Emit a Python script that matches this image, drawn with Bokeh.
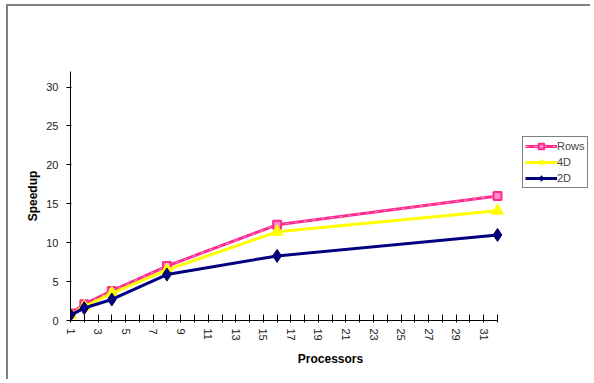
from bokeh.plotting import figure
from bokeh.models import FixedTicker, Legend, LegendItem, ColumnDataSource
from bokeh.embed import file_html
from bokeh.resources import INLINE

processors = [1, 2, 4, 8, 16, 32]
rows = [0.9, 2.1, 3.8, 7.0, 12.3, 16.0]
d4 = [0.7, 1.8, 3.5, 6.5, 11.4, 14.1]
d2 = [0.7, 1.6, 2.7, 5.9, 8.3, 11.0]

x_major = list(range(1, 33, 2))
x_minor = list(range(2, 33, 2))
y_ticks = [0, 5, 10, 15, 20, 25, 30]

FONT = "Liberation Sans"

# frame extends to the right so the legend (drawn inside the frame) is not clipped;
# the x axis itself is bounded to 1..32
AXIS_PX = 427.0
FRAME_PX = 520.0
x_end = 1 + 31 * FRAME_PX / AXIS_PX

p = figure(width=584, height=375, output_backend="svg", toolbar_location=None,
           x_range=(1, x_end), y_range=(0, 32),
           min_border_left=62, min_border_right=2, min_border_top=65, min_border_bottom=61)
p.styles = {"border-top": "2px solid #808080", "border-left": "2px solid #808080",
            "margin-top": "4px", "margin-left": "6px"}
p.xgrid.visible = False
p.ygrid.visible = False
p.outline_line_color = None
p.background_fill_color = "white"
p.border_fill_color = "white"

# axes
p.xaxis.bounds = (1, 32)
p.xaxis.ticker = FixedTicker(ticks=x_major, minor_ticks=x_minor)
p.xaxis.major_label_orientation = "vertical"
p.xaxis.major_tick_in = 6
p.xaxis.major_tick_out = 2
p.xaxis.minor_tick_in = 6
p.xaxis.minor_tick_out = 2
p.xaxis.minor_tick_line_color = "black"
p.xaxis.major_label_standoff = 6
p.xaxis.axis_label = "Processors"
p.xaxis.axis_label_standoff = 8

p.yaxis.ticker = FixedTicker(ticks=y_ticks)
p.yaxis.minor_tick_line_color = None
p.yaxis.major_tick_in = 1
p.yaxis.major_tick_out = 4
p.yaxis.major_label_standoff = 8
p.yaxis.axis_label = "Speedup"
p.yaxis.axis_label_standoff = 3

for ax in (p.xaxis, p.yaxis):
    ax.axis_line_color = "black"
    ax.major_tick_line_color = "black"
    ax.major_label_text_font = FONT
    ax.major_label_text_font_size = "11px"
    ax.major_label_text_color = "#222222"
    ax.axis_label_text_font = FONT
    ax.axis_label_text_font_size = "12px"
    ax.axis_label_text_font_style = "bold"
    ax.axis_label_text_color = "black"

src = ColumnDataSource(dict(x=processors, rows=rows, d4=d4, d2=d2))

pink = "#FF2A90"
l1 = p.line("x", "rows", source=src, line_color=pink, line_width=3)
l1b = p.line("x", "rows", source=src, line_color="#FF9ACB", line_width=1, line_dash="3 6")
m1 = p.scatter("x", "rows", source=src, marker="square", size=8, fill_color="#FF8CC6",
               line_color=pink, line_width=2)

l2 = p.line("x", "d4", source=src, line_color="#FFFF00", line_width=3)
m2 = p.scatter("x", "d4", source=src, marker="triangle", size=12, fill_color="#FFFF00",
               line_color="#FFFF00")

l3 = p.line("x", "d2", source=src, line_color="#000080", line_width=3)
m3 = p.scatter("x", "d2", source=src, marker="diamond", size=13, fill_color="#000080",
               line_color="#000060")

legend = Legend(items=[
    LegendItem(label="Rows", renderers=[l1, l1b, m1]),
    LegendItem(label="4D", renderers=[l2, m2]),
    LegendItem(label="2D", renderers=[l3, m3]),
], location=(452, 132))
legend.border_line_color = "black"
legend.border_line_width = 1
legend.background_fill_alpha = 1
legend.label_text_font = FONT
legend.label_text_font_size = "11px"
legend.glyph_width = 32
legend.glyph_height = 14
legend.label_standoff = 0
legend.spacing = 2
legend.padding = 2
legend.margin = 0
legend.label_height = 14
p.add_layout(legend, "center")

open("out.html", "w").write(file_html(p, INLINE))
